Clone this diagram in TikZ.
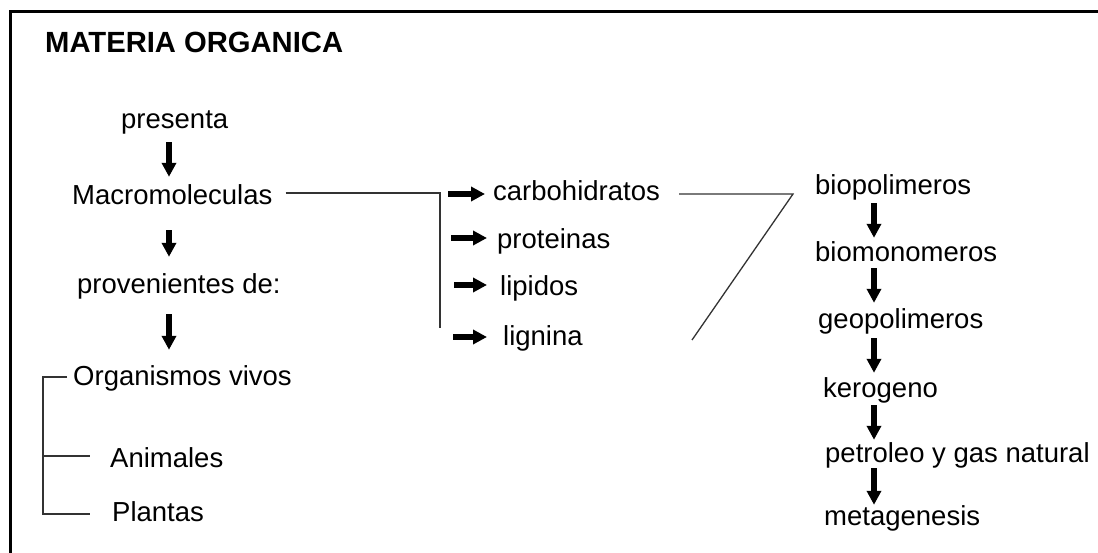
\documentclass[tikz,border=0pt]{standalone}
\usepackage{fontspec}
\setmainfont{Liberation Sans}
\usetikzlibrary{arrows.meta}
\begin{document}
\begin{tikzpicture}[x=1pt,y=-1pt,
  txt/.style={anchor=base west,inner sep=0pt,text height=20pt,text depth=6pt,font=\fontsize{27.5}{33}\selectfont},
  ttl/.style={anchor=base west,inner sep=0pt,font=\fontsize{29.2}{35}\selectfont\bfseries},
  bigarr/.style={line width=6pt,-{Triangle[length=14pt,width=14pt]}},
  ln/.style={line width=1.3pt,draw=black!80}]
\useasboundingbox (0,0) rectangle (1098,553);
\fill[white] (0,0) rectangle (1098,553);
% frame
\draw[line width=3pt] (10,553) -- (10,12) -- (1098,12);
% texts
\node[ttl] (title) at (45,53) {MATERIA ORGANICA};
\node[txt] (pres) at (121,129) {presenta};
\node[txt] (macro) at (72,205) {Macromoleculas};
\node[txt] (prov) at (77,294) {provenientes de:};
\node[txt] (org) at (73,385) {Organismos vivos};
\node[txt] (anim) at (110,467) {Animales};
\node[txt] (plan) at (112,521) {Plantas};
\node[txt] (carb) at (493,201) {carbohidratos};
\node[txt] (prot) at (497,249) {proteinas};
\node[txt] (lip) at (500,296) {lipidos};
\node[txt] (lig) at (503,346) {lignina};
\node[txt] (biop) at (815,195) {biopolimeros};
\node[txt] (biom) at (815,262) {biomonomeros};
\node[txt] (geop) at (818,329) {geopolimeros};
\node[txt] (kero) at (823,397) {kerogeno};
\node[txt] (petr) at (825,462) {petroleo y gas natural};
\node[txt] (meta) at (824,525) {metagenesis};
% column / row coordinates
\coordinate (cL) at (169,0);
\coordinate (cR) at (874,0);
\coordinate (h1) at (0,194);
\coordinate (h2) at (0,238);
\coordinate (h3) at (0,285);
\coordinate (h4) at (0,337);
\coordinate (m1) at (440,193);
\coordinate (m2) at (440,328);
\coordinate (k1) at (793,194);
\coordinate (k2) at (692,340);
\coordinate (b1) at (43,377);
\coordinate (b2) at (43,514);
\coordinate (b3) at (43,456);
% left column arrows
\draw[bigarr,shorten <=7pt,shorten >=8pt] (pres.south -| cL) -- (macro.north -| cL);
\draw[bigarr,shorten <=19pt,shorten >=17pt] (macro.south -| cL) -- (prov.north -| cL);
\draw[bigarr,shorten <=14pt,shorten >=15pt] (prov.south -| cL) -- (org.north -| cL);
% right column arrows
\draw[bigarr,shorten <=2pt,shorten >=4pt] (biop.south -| cR) -- (biom.north -| cR);
\draw[bigarr,shorten <=0pt,shorten >=6pt] (biom.south -| cR) -- (geop.north -| cR);
\draw[bigarr,shorten <=3pt,shorten >=4pt] (geop.south -| cR) -- (kero.north -| cR);
\draw[bigarr,shorten <=2pt,shorten >=2pt] (kero.south -| cR) -- (petr.north -| cR);
\draw[bigarr,shorten <=0pt,shorten >=0pt] (petr.south -| cR) -- (meta.north -| cR);
% horizontal arrows
\draw[bigarr] ([xshift=-45pt]h1 -| carb.west) -- ([xshift=-8pt]h1 -| carb.west);
\draw[bigarr] ([xshift=-46pt]h2 -| prot.west) -- ([xshift=-10pt]h2 -| prot.west);
\draw[bigarr] ([xshift=-46pt]h3 -| lip.west) -- ([xshift=-13pt]h3 -| lip.west);
\draw[bigarr] ([xshift=-50pt]h4 -| lig.west) -- ([xshift=-16pt]h4 -| lig.west);
% connector lines
\draw[ln] ([xshift=13pt]m1 -| macro.east) -- (m1) -- (m2);
\draw[ln] ([xshift=19pt]k1 -| carb.east) -- (k1) -- (k2);
\draw[ln] ([xshift=-6pt]b1 -| org.west) -- (b1) -- (b2) -- ([xshift=-22pt]b2 -| plan.west);
\draw[ln] (b3) -- ([xshift=-20pt]b3 -| anim.west);
\end{tikzpicture}
\end{document}
